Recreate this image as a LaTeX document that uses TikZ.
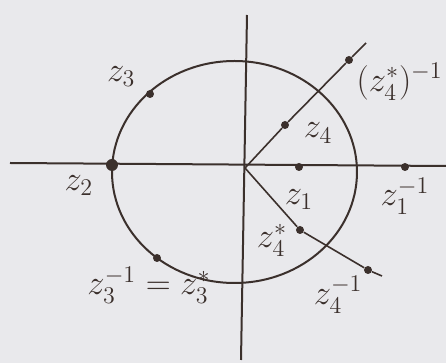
\documentclass[tikz,border=0pt]{standalone}
\usetikzlibrary{positioning}
\definecolor{pen}{HTML}{3B302C}
\definecolor{paper}{HTML}{E9E9EC}
\tikzset{
 dot/.style={circle,fill=pen,inner sep=0pt,minimum size=4pt},
 lbl/.style={font=\LARGE,text=pen,inner sep=1pt},
 axis/.style={draw=pen,line width=1pt},
 ray/.style={draw=pen,line width=0.8pt}
}
\begin{document}
\begin{tikzpicture}[x=0.5pt,y=-0.5pt]
 \fill[paper] (0,0) rectangle (446,363);
 \useasboundingbox (0,0) rectangle (446,363);
 % axes and unit circle
 \coordinate (xl) at (10,163);
 \coordinate (xr) at (446,166);
 \coordinate (yt) at (247,15);
 \coordinate (yb) at (241,360);
 \coordinate (O) at (245,168);
 \draw[axis] (xl) -- (xr);
 \draw[axis] (yt) -- (yb);
 \draw[axis] (234.5,172) ellipse [x radius=122.5, y radius=111];
 % points
 \node[dot] (z1) at (299,167) {};
 \node[dot] (z1inv) at (405,167) {};
 \node[dot,minimum size=6pt] (z2) at (112,165) {};
 \node[dot] (z3) at (150,94) {};
 \node[dot] (z3inv) at (157,258) {};
 \node[dot] (z4) at (285,125) {};
 \node[dot] (z4cinv) at (349,60) {};
 \node[dot] (z4c) at (300,230) {};
 \node[dot] (z4inv) at (368,270) {};
 \coordinate (upend) at (366,43);
 \coordinate (lowend) at (382,276);
 % rays
 \draw[ray] (O) -- (z4) -- (z4cinv) -- (upend);
 \draw[ray] (O) -- (z4c) -- (z4inv) -- (lowend);
 % labels
 \node[lbl,below=8pt of z1] (z1lbl) {$z_1$};
 \node[lbl,below=2pt of z1inv] (z1invlbl) {$z_1^{-1}$};
 \node[lbl,below left=2pt and 6pt of z2] (z2lbl) {$z_2$};
 \node[lbl,above left=1pt and 4.5pt of z3] (z3lbl) {$z_3$};
 \node[lbl,below=1pt of z3inv,xshift=-4pt] (z3invlbl) {$z_3^{-1}=z_3^{*}$};
 \node[lbl,right=6pt of z4,yshift=-4pt] (z4lbl) {$z_4$};
 \node[lbl,left=3pt of z4c,yshift=-5pt] (z4clbl) {$z_4^{*}$};
 \node[lbl,below left=0.5pt and 0pt of z4inv] (z4invlbl) {$z_4^{-1}$};
 \node[lbl,below right=-1pt and 1pt of z4cinv] (z4cinvlbl) {$(z_4^{*})^{-1}$};
\end{tikzpicture}
\end{document}
